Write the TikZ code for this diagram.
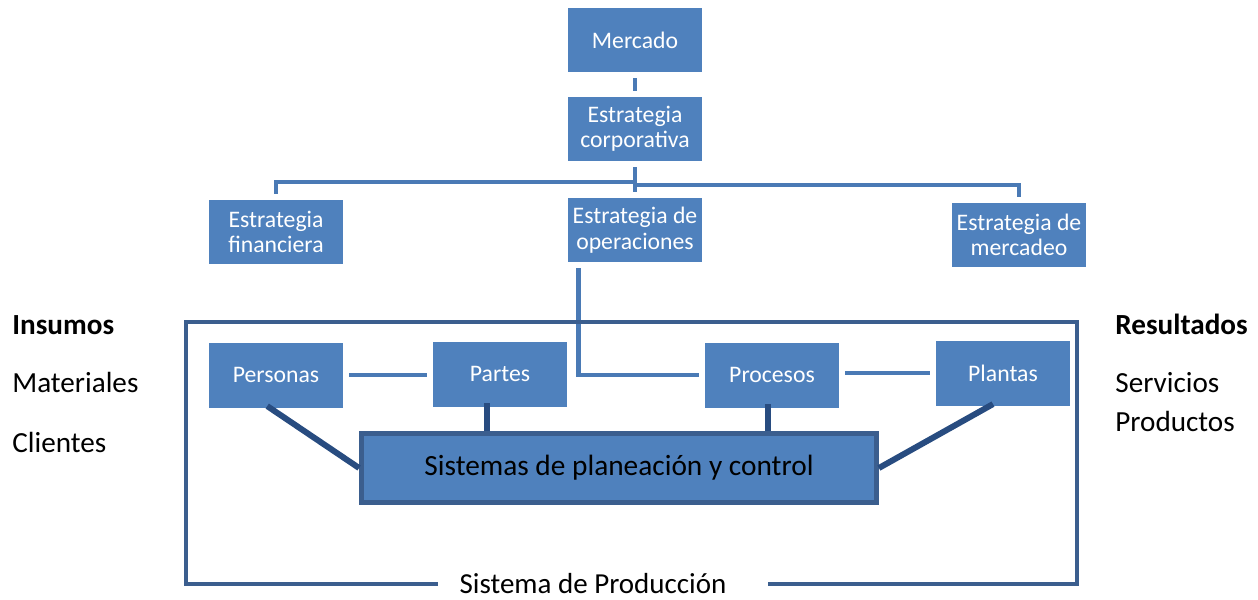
\documentclass[tikz,border=0pt]{standalone}
\usepackage{fontspec}
\setmainfont{Carlito}
\definecolor{boxblue}{HTML}{4F81BD}
\definecolor{lineblue}{HTML}{4A7AB5}
\definecolor{darkblue}{HTML}{284C80}
\definecolor{frameblue}{HTML}{3B5E8E}
\begin{document}
\begin{tikzpicture}[x=0.02cm,y=-0.02cm]
\tikzstyle{box}=[fill=boxblue,text=white,minimum width=2.7cm,minimum height=1.3cm,inner sep=0pt,align=center,font=\fontsize{13.5}{14.5}\selectfont]
\tikzstyle{thinline}=[lineblue,line width=2.8pt]
\tikzstyle{thickline}=[darkblue,line width=3.4pt]
\tikzstyle{side}=[anchor=base west,inner sep=0pt,font=\fontsize{16.6}{18}\selectfont]
\useasboundingbox (0,0) rectangle (1258,599);
\node[box] (mercado) at (635,40) {Mercado};
\node[box] (corp) at (635,129) {Estrategia\\corporativa};
\node[box] (fin) at (276,232) {Estrategia\\financiera};
\node[box] (oper) at (635,230) {Estrategia de\\operaciones};
\node[box] (merc) at (1019,235) {Estrategia de\\mercadeo};
\node[box] (personas) at (276,375) {Personas};
\node[box] (partes) at (500,374) {Partes};
\node[box] (procesos) at (772,375) {Procesos};
\node[box] (plantas) at (1003,373) {Plantas};
\node[box,draw=frameblue,line width=2.8pt,minimum width=10.3cm,minimum height=1.38cm,text=black,font=\fontsize{16.7}{18}\selectfont] (spc) at (619,468) {Sistemas de planeación y control};
\node[inner sep=0pt,font=\fontsize{16.5}{18}\selectfont] (prod) at (593,584) {Sistema de Producción};
\node[side] (insumos) at (12,334) {\textbf{Insumos}};
\node[side] (materiales) at (12,392) {Materiales};
\node[side] (clientes) at (12,452) {Clientes};
\node[side] (resultados) at (1115,334) {\textbf{Resultados}};
\node[side] (servicios) at (1115,392) {Servicios};
\node[side] (productos) at (1115,431) {Productos};
\coordinate (busL) at (636,182);
\coordinate (busR) at (636,185);
\draw[thinline,shorten <=3pt,shorten >=3pt] (mercado) -- (corp);
\draw[thinline] ([yshift=-3pt]corp.south) -- ([yshift=3pt]oper.north);
\draw[thinline] (busL) -| ([yshift=3pt]fin.north);
\draw[thinline] (busR) -| ([yshift=3pt]merc.north);
\draw[thinline] ([xshift=6.5pt,yshift=-3pt]oper.south west) |- ([xshift=-3pt]procesos.west);
\draw[thinline] ([xshift=3pt]personas.east) -- ([xshift=-3pt]partes.west |- personas.east);
\draw[thinline] ([xshift=3pt]procesos.east |- plantas.west) -- ([xshift=-3pt]plantas.west);
\draw[thickline] ([xshift=-5pt,yshift=1pt]personas.south) -- (spc.west);
\draw[thickline] ([xshift=-7.4pt,yshift=2pt]partes.south) -- ([xshift=-7.4pt]partes.south |- spc.north);
\draw[thickline] ([xshift=-2.3pt,yshift=2pt]procesos.south) -- ([xshift=-2.3pt]procesos.south |- spc.north);
\draw[thickline] ([xshift=-5.7pt,yshift=1pt]plantas.south) -- (spc.east);
\draw[frameblue,line width=2.3pt] (438,584) -| (186,322) -| (1077,584) -- (768,584);
\end{tikzpicture}
\end{document}
